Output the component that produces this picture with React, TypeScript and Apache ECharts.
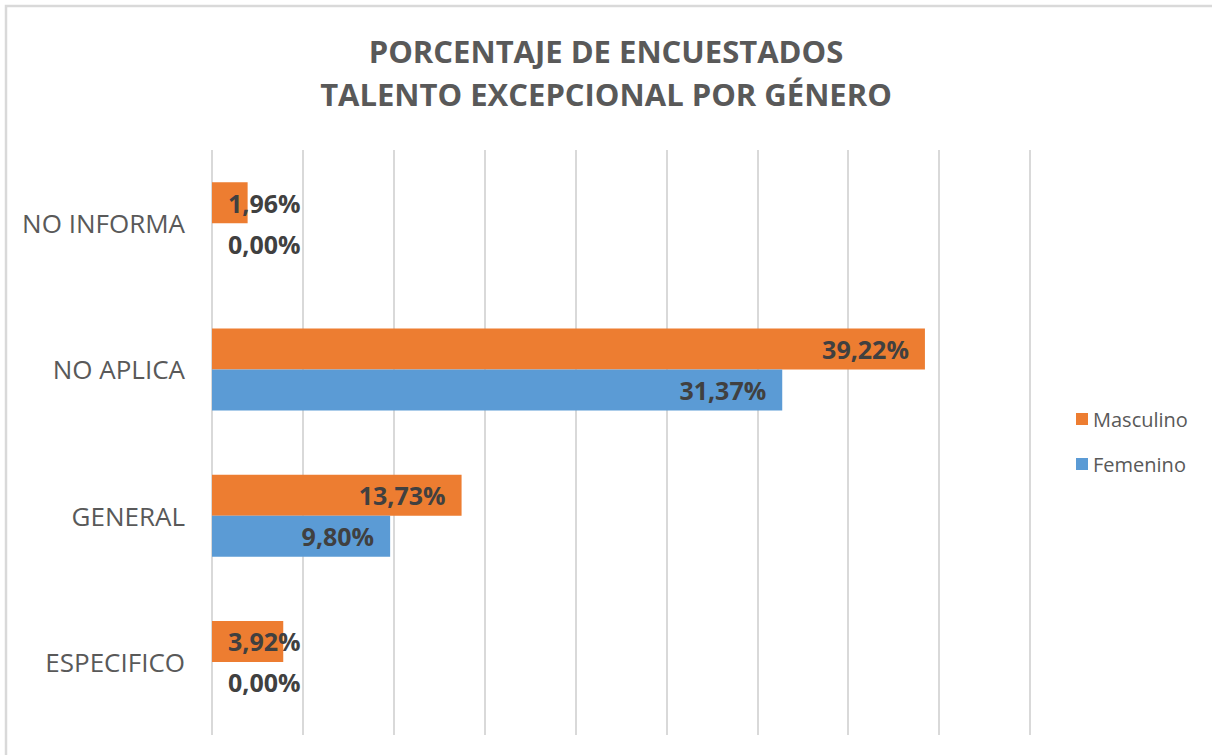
import React, { useEffect, useRef } from "react";
import * as echarts from "echarts";

const categories = ["ESPECIFICO", "GENERAL", "NO APLICA", "NO INFORMA"];
const masculino = [3.92, 13.73, 39.22, 1.96];
const femenino = [0.0, 9.8, 31.37, 0.0];
const seriesNames = ["Masculino", "Femenino"];
const titleLines = ["PORCENTAJE DE ENCUESTADOS", "TALENTO EXCEPCIONAL POR GÉNERO"];

const FONT = "'Open Sans', sans-serif";

const fmt = (v: number) => v.toFixed(2).replace(".", ",") + "%";

const toItems = (vals: number[]) =>
  vals.map((v) => ({
    value: v,
    label:
      v < 6
        ? { position: "insideLeft", distance: 16 }
        : { position: "insideRight", distance: 16 },
  }));

export default function App() {
  const ref = useRef<HTMLDivElement>(null);
  useEffect(() => {
    if (!ref.current) return;
    const chart = echarts.init(ref.current, null, { renderer: "svg" });
    const labelStyle = {
      show: true,
      formatter: (p: any) => fmt(p.value),
      color: "#404040",
      fontWeight: "bold",
      fontSize: 25,
      fontFamily: FONT,
    };
    chart.setOption({
      animation: false,
      backgroundColor: "#ffffff",
      title: {
        text: titleLines.join("\n"),
        left: "center",
        top: 24,
        textStyle: {
          color: "#595959",
          fontSize: 31,
          fontWeight: "bold",
          fontFamily: FONT,
          lineHeight: 43,
        },
      },
      graphic: [
        {
          type: "rect",
          shape: { x: 6, y: 6, width: 1400, height: 1000 },
          style: { fill: "none", stroke: "#d9d9d9", lineWidth: 2.5 },
          silent: true,
        },
      ],
      legend: {
        data: seriesNames,
        orient: "vertical",
        left: 1071,
        top: 404,
        icon: "rect",
        itemWidth: 12,
        itemHeight: 12,
        itemGap: 25,
        textStyle: { color: "#595959", fontSize: 20, fontFamily: FONT },
      },
      grid: { left: 212, right: 182, top: 150, bottom: 20 },
      xAxis: {
        type: "value",
        min: 0,
        max: 45,
        interval: 5,
        axisLabel: { show: false },
        axisLine: { show: false },
        axisTick: { show: false },
        splitLine: { show: true, lineStyle: { color: "#d9d9d9", width: 2 } },
      },
      yAxis: {
        type: "category",
        data: categories,
        axisLine: { show: false },
        axisTick: { show: false },
        axisLabel: {
          color: "#595959",
          fontSize: 26,
          fontFamily: FONT,
          margin: 27,
        },
      },
      series: [
        {
          name: "Masculino",
          type: "bar",
          data: toItems(masculino),
          barWidth: 41,
          barGap: "0%",
          itemStyle: { color: "#ED7D31" },
          label: labelStyle,
        },
        {
          name: "Femenino",
          type: "bar",
          data: toItems(femenino),
          barWidth: 41,
          barGap: "0%",
          itemStyle: { color: "#5B9BD5" },
          label: labelStyle,
        },
      ],
    });
    return () => chart.dispose();
  }, []);
  return (
    <div
      ref={ref}
      style={{ position: "fixed", left: 0, top: 0, width: 1212, height: 755 }}
    />
  );
}
